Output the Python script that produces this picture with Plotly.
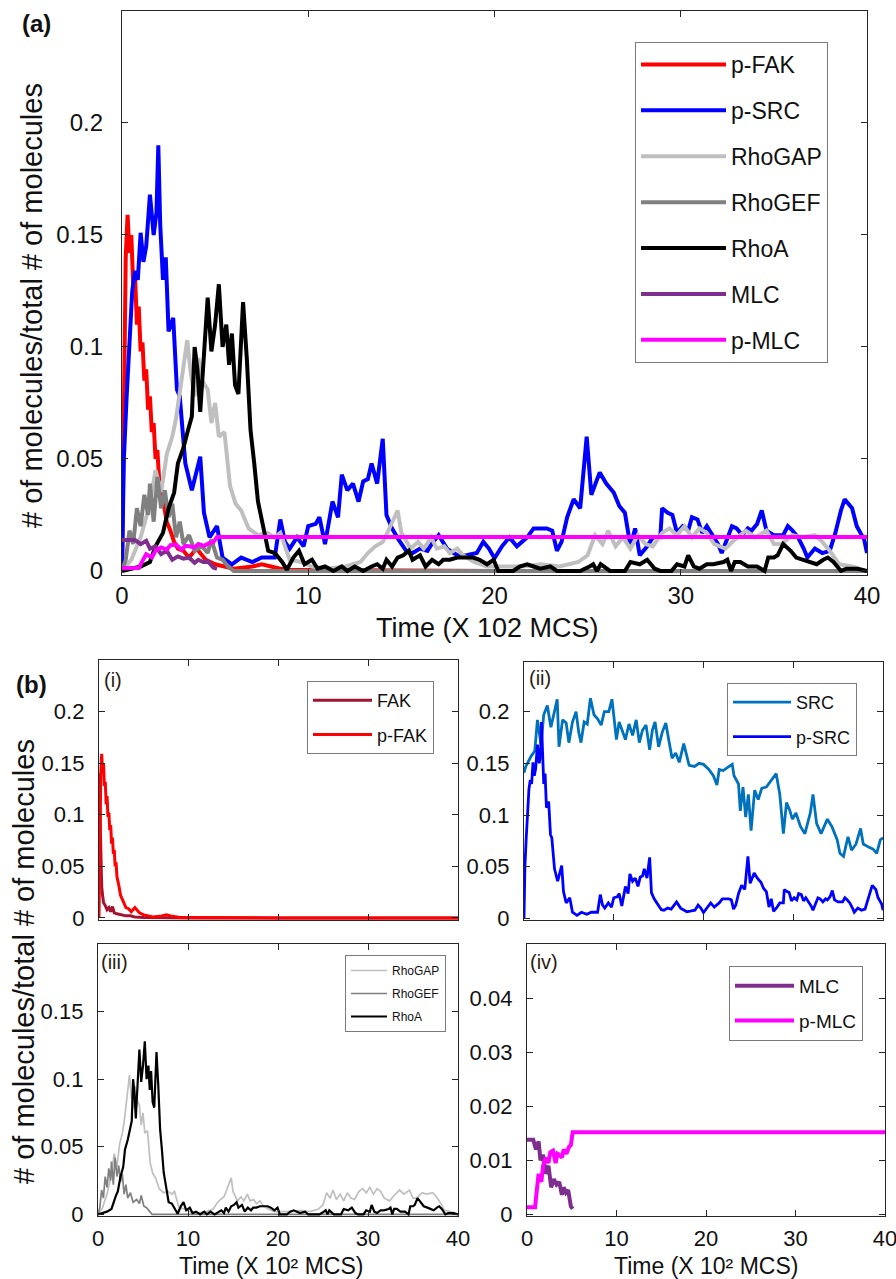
import plotly.graph_objects as go

W, H = 896, 1279
FONT = "Arial, 'Liberation Sans', Helvetica, sans-serif"

# ---------------- data (fraction of molecules vs time, x 10^2 MCS) ----------------
t_pfak = [0, 0.1, 0.2, 0.3, 0.4, 0.5, 0.6, 0.7, 0.8, 0.9,
          1.0, 1.1, 1.2, 1.3, 1.4, 1.5, 1.6, 1.7, 1.8, 1.9,
          2.0, 2.2, 2.4, 2.6, 2.8, 3.0, 3.3, 3.6, 4.0, 4.5,
          5.0, 5.5, 6.0, 7.0, 7.5, 8.0, 8.5, 9.0, 10, 12, 15, 20, 25, 30, 35, 40]
pfak = [0, 0.09, 0.14, 0.159, 0.142, 0.150, 0.128, 0.132, 0.110, 0.118,
        0.098, 0.102, 0.085, 0.090, 0.072, 0.078, 0.062, 0.066, 0.050, 0.054,
        0.040, 0.032, 0.022, 0.018, 0.013, 0.010, 0.009, 0.006, 0.010, 0.005,
        0.003, 0.002, 0.001, 0.002, 0.003, 0.002, 0.001, 0.0005, 0.0005, 0.0003, 0.0002, 0, 0, 0, 0, 0]

t_fak = [0, 0.1, 0.2, 0.3, 0.4, 0.5, 0.7, 0.9, 1.1, 1.3, 1.5, 1.7, 2.0, 2.5, 3.0, 3.5, 4.0, 5, 6, 8, 10, 40]
fak = [0.14, 0.09, 0.05, 0.03, 0.022, 0.015, 0.012, 0.008, 0.010, 0.006, 0.011, 0.005,
       0.004, 0.003, 0.002, 0.002, 0.001, 0.0005, 0.0003, 0.0002, 0, 0]

t_psrc = [0, 0.1, 0.25, 0.4, 0.55, 0.7, 0.85, 1.0, 1.15, 1.3, 1.5, 1.7, 1.85, 1.95, 2.05, 2.2, 2.35,
          2.5, 2.75, 2.95, 3.1, 3.4, 3.75, 4.2, 4.4, 4.7, 5.1, 5.4, 5.9, 6.4, 7.0, 7.5, 8.2, 8.5,
          8.75, 9.0, 9.4, 9.75, 10.0, 10.4, 10.6, 10.9, 11.3, 11.6, 11.8, 12.1, 12.4, 12.7, 12.95,
          13.2, 13.4, 13.7, 14.0, 14.2, 14.5, 14.85, 15.3, 15.6, 16.0, 16.4, 16.7, 17.0, 17.45,
          17.8, 18.15, 18.5, 19.05, 19.4, 19.7, 20.0, 20.4, 20.8, 21.2, 21.75, 22.1, 22.8, 23.1,
          23.35, 23.6, 23.9, 24.25, 24.6, 24.95, 25.2, 25.65, 26.0, 26.4, 26.7, 27.0, 27.3, 27.55,
          27.8, 28.2, 28.5, 28.9, 29.0, 29.3, 29.55, 29.8, 30.1, 30.4, 30.6, 30.9, 31.15, 31.4,
          31.7, 32.0, 32.2, 32.5, 32.75, 33.0, 33.3, 33.6, 33.8, 34.1, 34.35, 34.6, 35.0, 35.5,
          35.75, 36.0, 36.3, 36.6, 36.8, 37.2, 37.6, 38.0, 38.3, 38.6, 38.8, 39.2, 39.45, 39.85, 40.0]
psrc = [0, 0.05, 0.078, 0.10, 0.125, 0.134, 0.13, 0.151, 0.138, 0.145, 0.168, 0.15, 0.16, 0.19, 0.155, 0.13, 0.14,
        0.107, 0.113, 0.081, 0.078, 0.048, 0.036, 0.051, 0.026, 0.015, 0.020, 0.006, 0.003, 0.006, 0.004, 0.006, 0.006, 0.023,
        0.013, 0.010, 0.015, 0.011, 0.020, 0.021, 0.024, 0.012, 0.031, 0.024, 0.043, 0.036, 0.039, 0.031, 0.040,
        0.041, 0.048, 0.039, 0.059, 0.025, 0.019, 0.014, 0.0085, 0.008, 0.010, 0.009, 0.013, 0.016, 0.010,
        0.008, 0.0065, 0.007, 0.008, 0.013, 0.010, 0.0057, 0.011, 0.015, 0.011, 0.015, 0.019, 0.019, 0.018,
        0.009, 0.013, 0.024, 0.032, 0.028, 0.060, 0.034, 0.044, 0.039, 0.035, 0.029, 0.026, 0.011, 0.019,
        0.007, 0.011, 0.015, 0.015, 0.028, 0.026, 0.025, 0.017, 0.020, 0.018, 0.024, 0.023, 0.017, 0.020,
        0.016, 0.012, 0.008, 0.014, 0.020, 0.019, 0.016, 0.019, 0.018, 0.021, 0.027, 0.018, 0.016, 0.016,
        0.020, 0.018, 0.015, 0.010, 0.006, 0.010, 0.008, 0.009, 0.017, 0.027, 0.032, 0.028, 0.020, 0.014, 0.008]

t_src = [0, 0.2, 0.8, 1.2, 1.5, 1.9, 2.2, 2.6, 3.0, 3.3, 3.7, 3.9, 4.3, 4.7, 5.0, 5.4, 5.8, 6.1, 6.35,
         6.7, 7.05, 7.4, 7.8, 8.2, 8.6, 8.95, 9.45, 9.8, 10.05, 10.3, 10.6, 11.0, 11.3, 11.7, 12.1,
         12.5, 12.85, 13.2, 13.6, 14.0, 14.3, 14.6, 15.0, 15.4, 15.8, 16.1, 16.5, 16.9, 17.3, 17.8,
         18.4, 19.0, 19.5, 20.0, 20.6, 21.1, 21.5, 21.75, 22.2, 22.7, 23.2, 23.4, 23.9, 24.1, 24.4,
         24.7, 25.0, 25.3, 25.7, 26.1, 26.5, 27.0, 27.6, 28.1, 28.5, 28.9, 29.25, 29.6, 29.9, 30.3,
         30.8, 31.3, 31.9, 32.2, 32.6, 33.1, 33.8, 34.3, 34.9, 35.2, 35.6, 36.1, 36.5, 37.0, 37.5,
         37.8, 38.4, 38.9, 39.3, 39.7, 40.0]
src = [0.141, 0.147, 0.157, 0.162, 0.192, 0.168, 0.197, 0.206, 0.185, 0.198, 0.212, 0.166, 0.192, 0.189, 0.170, 0.190, 0.200, 0.180, 0.170,
       0.190, 0.188, 0.213, 0.197, 0.193, 0.187, 0.200, 0.200, 0.212, 0.195, 0.173, 0.190, 0.180, 0.173, 0.188, 0.177,
       0.192, 0.170, 0.182, 0.187, 0.163, 0.182, 0.190, 0.166, 0.180, 0.189, 0.174, 0.155, 0.160, 0.151, 0.169,
       0.148, 0.147, 0.150, 0.149, 0.144, 0.138, 0.129, 0.144, 0.143, 0.146, 0.149, 0.138, 0.130, 0.104, 0.127,
       0.098, 0.120, 0.085, 0.124, 0.115, 0.126, 0.127, 0.134, 0.140, 0.120, 0.082, 0.112, 0.105, 0.096, 0.102,
       0.089, 0.082, 0.102, 0.120, 0.092, 0.082, 0.096, 0.089, 0.076, 0.063, 0.060, 0.079, 0.066, 0.072, 0.087,
       0.072, 0.069, 0.067, 0.063, 0.076, 0.078]

t_rhogap = [0, 0.5, 1.0, 1.5, 1.8, 2.1, 2.4, 2.7, 2.9, 3.1, 3.3, 3.5, 3.7, 3.9, 4.1, 4.3, 4.6, 4.8,
            5.0, 5.2, 5.5, 5.8, 6.1, 6.4, 6.8, 7.3, 7.8, 8.2, 8.5, 9.0, 9.6, 10.2, 11.0, 12.0, 12.8,
            13.2, 13.6, 14.0, 14.3, 14.6, 14.8, 15.0, 15.5, 15.9, 16.2, 16.6, 16.9, 17.3, 17.6, 18.0,
            18.3, 18.9, 19.6, 20.5, 21.5, 22.5, 23.5, 24.5, 25.0, 25.4, 25.8, 26.1, 26.5, 26.9, 27.3,
            27.7, 28.1, 28.5, 29.0, 29.4, 29.8, 30.2, 30.6, 31.0, 31.4, 31.8, 32.4, 32.9, 33.5, 34.0,
            34.6, 35.0, 35.4, 36.0, 36.5, 37.2, 37.6, 38.0, 38.5, 39.2, 40.0]
rhogap = [0, 0.005, 0.015, 0.030, 0.045, 0.035, 0.052, 0.060, 0.068, 0.080, 0.090, 0.103, 0.088, 0.078, 0.095, 0.085, 0.081, 0.066,
          0.075, 0.060, 0.062, 0.038, 0.030, 0.027, 0.019, 0.016, 0.017, 0.015, 0.017, 0.005, 0.004, 0.002, 0.001, 0.002, 0.004,
          0.008, 0.011, 0.013, 0.018, 0.024, 0.027, 0.017, 0.010, 0.013, 0.010, 0.015, 0.010, 0.011, 0.008, 0.010,
          0.007, 0.004, 0.002, 0.002, 0.002, 0.003, 0.002, 0.004, 0.007, 0.016, 0.012, 0.018, 0.011, 0.015, 0.010,
          0.016, 0.012, 0.011, 0.017, 0.019, 0.016, 0.020, 0.015, 0.019, 0.017, 0.012, 0.010, 0.014, 0.018, 0.015,
          0.018, 0.012, 0.012, 0.016, 0.015, 0.016, 0.013, 0.009, 0.003, 0.002, 0.0]

t_rhogef = [0, 0.2, 0.4, 0.6, 0.8, 1.0, 1.2, 1.4, 1.5, 1.7, 1.9, 2.1, 2.3, 2.5, 2.7, 2.9, 3.1, 3.3,
            3.6, 3.9, 4.3, 4.6, 4.8, 5.1, 5.4, 5.7, 6.0, 40]
rhogef = [0, 0.005, 0.018, 0.012, 0.028, 0.020, 0.034, 0.025, 0.039, 0.022, 0.042, 0.028, 0.036, 0.024, 0.030, 0.015, 0.022, 0.012,
          0.016, 0.009, 0.011, 0.008, 0.014, 0.006, 0.005, 0.002, 0, 0]

t_rhoa = [0, 0.5, 1.0, 1.5, 1.8, 2.0, 2.2, 2.5, 2.8, 3.0, 3.3, 3.55, 3.75, 3.9, 4.05, 4.2, 4.4, 4.6,
          4.8, 5.0, 5.2, 5.4, 5.6, 5.75, 5.9, 6.07, 6.25, 6.5, 6.7, 6.9, 7.1, 7.3, 7.6, 7.85, 8.2,
          8.6, 8.85, 9.2, 9.5, 9.8, 10.2, 10.5, 10.9, 11.35, 11.8, 12.1, 12.5, 12.95, 13.4, 13.7,
          14.0, 14.2, 14.5, 14.8, 15.1, 15.4, 15.6, 16.0, 16.3, 16.65, 17.0, 17.25, 17.6, 18.0, 18.4,
          18.85, 19.2, 19.6, 19.95, 20.2, 20.6, 21.0, 21.35, 21.75, 22.1, 22.45, 23.0, 23.35, 23.9,
          24.6, 25.1, 25.3, 25.5, 25.7, 26.2, 27.0, 27.3, 27.8, 28.2, 28.6, 28.9, 29.5, 29.8, 30.2,
          30.4, 30.7, 31.0, 31.4, 31.75, 32.3, 32.5, 32.7, 32.9, 33.2, 33.6, 34.1, 34.5, 34.7, 35.0,
          35.2, 35.5, 35.9, 36.2, 36.6, 36.9, 37.3, 37.65, 37.9, 38.2, 38.6, 38.9, 39.5, 40.0]
rhoa = [0, 0.001, 0.002, 0.004, 0.011, 0.014, 0.017, 0.028, 0.035, 0.048, 0.055, 0.063, 0.069, 0.100, 0.090, 0.071, 0.096, 0.122,
        0.098, 0.110, 0.128, 0.100, 0.110, 0.092, 0.106, 0.083, 0.079, 0.120, 0.095, 0.063, 0.048, 0.031, 0.019, 0.009, 0.008,
        0.004, 0.0005, 0.006, 0.009, 0.003, 0.005, 0.001, 0.002, 0.0, 0.002, 0.0, 0.002, 0.0, 0.002, 0.003,
        0.001, 0.005, 0.002, 0.006, 0.007, 0.009, 0.005, 0.007, 0.002, 0.005, 0.003, 0.005, 0.005, 0.006, 0.006,
        0.006, 0.005, 0.003, 0.005, 0.0, 0.0, 0.0, 0.002, 0.003, 0.002, 0.001, 0.002, 0.0, 0.0,
        0.0, 0.002, 0.003, 0.0, 0.003, 0.0, 0.0, 0.004, 0.003, 0.005, 0.001, 0.0, 0.0, 0.003, 0.002,
        0.007, 0.002, 0.001, 0.003, 0.003, 0.004, 0.005, 0.0, 0.004, 0.004, 0.002, 0.002, 0.0, 0.006, 0.006,
        0.007, 0.012, 0.009, 0.006, 0.005, 0.004, 0.003, 0.005, 0.006, 0.004, 0.0, 0.001, 0.001, 0.0]

t_mlc = [0, 0.7, 1.0, 1.3, 1.5, 1.8, 2.1, 2.4, 2.7, 3.0, 3.3, 3.6, 3.9, 4.1, 4.35, 4.6, 4.9, 5.1]
mlc = [0.0138, 0.0138, 0.012, 0.0135, 0.010, 0.011, 0.0075, 0.009, 0.005, 0.0065, 0.0055, 0.006, 0.0036, 0.005, 0.004, 0.0045, 0.0015, 0.001]

t_pmlc = [0, 0.9, 1.1, 1.3, 1.6, 1.8, 2.1, 2.4, 2.6, 2.9, 3.2, 3.4, 3.6, 3.9, 4.1, 4.4, 4.7, 4.9, 5.1, 40]
pmlc = [0.0013, 0.0013, 0.0045, 0.0075, 0.006, 0.009, 0.0105, 0.0095, 0.0115, 0.0118, 0.0095, 0.0112, 0.011, 0.0105, 0.012,
        0.0112, 0.0125, 0.0128, 0.0152, 0.0152]

x_ticks = [0, 10, 20, 30, 40]
y_ticks_main = [0, 0.05, 0.1, 0.15, 0.2]
y_text_main = ["0", "0.05", "0.1", "0.15", "0.2"]
y_ticks_iii = [0, 0.05, 0.1, 0.15]
y_text_iii = ["0", "0.05", "0.1", "0.15"]
y_ticks_iv = [0, 0.01, 0.02, 0.03, 0.04]
y_text_iv = ["0", "0.01", "0.02", "0.03", "0.04"]

C = {"p-FAK": "#ff0000", "FAK": "#a2142f", "p-SRC": "#0000ff", "SRC": "#0072bd",
     "RhoGAP": "#bfbfbf", "RhoGEF": "#808080", "RhoA": "#000000",
     "MLC": "#7e2f8e", "p-MLC": "#ff00ff"}

# ---------------- layout helpers (pixel -> paper) ----------------
def fx(px):
    return px / W


def fy(py):
    return 1 - py / H


fig = go.Figure()


def add(x, y, name, width, xa, ya, legend):
    fig.add_trace(go.Scatter(
        x=x, y=y, mode="lines", name=name,
        line=dict(color=C[name], width=width, shape="linear"),
        xaxis=xa, yaxis=ya, legend=legend, legendgroup=legend + name,
    ))


# (a)
add(t_pfak, pfak, "p-FAK", 4, "x", "y", "legend")
add(t_psrc, psrc, "p-SRC", 4, "x", "y", "legend")
add(t_rhogap, rhogap, "RhoGAP", 4, "x", "y", "legend")
add(t_rhogef, rhogef, "RhoGEF", 4, "x", "y", "legend")
add(t_rhoa, rhoa, "RhoA", 4, "x", "y", "legend")
add(t_mlc, mlc, "MLC", 4, "x", "y", "legend")
add(t_pmlc, pmlc, "p-MLC", 4, "x", "y", "legend")
# (i)
add(t_fak, fak, "FAK", 3, "x2", "y2", "legend2")
add(t_pfak, pfak, "p-FAK", 3, "x2", "y2", "legend2")
# (ii)
add(t_src, src, "SRC", 2.8, "x3", "y3", "legend3")
add(t_psrc, psrc, "p-SRC", 2.8, "x3", "y3", "legend3")
# (iii)
add(t_rhogap, rhogap, "RhoGAP", 1.7, "x4", "y4", "legend4")
add(t_rhogef, rhogef, "RhoGEF", 1.7, "x4", "y4", "legend4")
add(t_rhoa, rhoa, "RhoA", 2.2, "x4", "y4", "legend4")
# (iv)
add(t_mlc, mlc, "MLC", 4, "x5", "y5", "legend5")
add(t_pmlc, pmlc, "p-MLC", 4, "x5", "y5", "legend5")

AX = "#262626"


def xaxis(dom, anchor, show_labels, size, standoff):
    return dict(domain=[fx(dom[0]), fx(dom[1])], anchor=anchor, range=[0, 40],
                tickvals=x_ticks, showticklabels=show_labels, automargin=False,
                ticklabeloverflow="allow",
                showgrid=False, zeroline=False, showline=True, linecolor=AX, linewidth=1.3,
                mirror="ticks", ticks="inside", ticklen=6, tickwidth=1.3, tickcolor=AX,
                tickfont=dict(family=FONT, size=size, color="#111"), ticklabelstandoff=standoff)


def yaxis(dom, anchor, rng, tv, tt, size, standoff):
    return dict(domain=[fy(dom[1]), fy(dom[0])], anchor=anchor, range=rng,
                tickvals=tv, ticktext=tt, automargin=False,
                showgrid=False, zeroline=False, showline=True, linecolor=AX, linewidth=1.3,
                mirror="ticks", ticks="inside", ticklen=6, tickwidth=1.3, tickcolor=AX,
                tickfont=dict(family=FONT, size=size, color="#111"), ticklabelstandoff=standoff)


def legend_box(xp, yp, size, gap, itemw):
    return dict(x=fx(xp), y=fy(yp), xanchor="left", yanchor="top", xref="paper", yref="paper",
                bgcolor="white", bordercolor="#7a7a7a", borderwidth=1,
                font=dict(family=FONT, size=size, color="#111"),
                tracegroupgap=gap, itemwidth=itemw, traceorder="grouped")


fig.update_layout(
    width=W, height=H, margin=dict(l=0, r=0, t=0, b=0, autoexpand=False),
    paper_bgcolor="white", plot_bgcolor="white",
    font=dict(family=FONT, color="#111"),
    xaxis=xaxis((122, 867), "y", True, 24, -1),
    yaxis=yaxis((11, 575), "x", [-0.0018, 0.25], y_ticks_main, y_text_main, 24, 13),
    xaxis2=xaxis((99, 458), "y2", False, 22, 3),
    yaxis2=yaxis((660, 920), "x2", [-0.002, 0.25], y_ticks_main, y_text_main, 22, 9),
    xaxis3=xaxis((524, 883), "y3", False, 22, 3),
    yaxis3=yaxis((662, 920), "x3", [-0.0015, 0.248], y_ticks_main, y_text_main, 22, 9),
    xaxis4=xaxis((98, 458), "y4", True, 22, 2),
    yaxis4=yaxis((944, 1216), "x4", [-0.0012, 0.2], y_ticks_iii, y_text_iii, 22, 9),
    xaxis5=xaxis((527, 885), "y5", True, 22, 2),
    yaxis5=yaxis((944, 1216), "x5", [-0.0003, 0.05], y_ticks_iv, y_text_iv, 22, 9),
    legend=legend_box(635, 42, 23, 13, 85),
    legend2=legend_box(307, 681, 18, 8, 59),
    legend3=legend_box(727, 683, 18, 8, 58),
    legend4=legend_box(345, 955, 12, 4, 36),
    legend5=legend_box(729, 966, 19, 7, 59),
)


def note(text, xp, yp, size, bold=False, angle=0, xanchor="center", color="#111"):
    fig.add_annotation(text=text, x=fx(xp), y=fy(yp),
                       xref="paper", yref="paper", showarrow=False, textangle=angle,
                       xanchor=xanchor, yanchor="middle",
                       font=dict(family=FONT, size=size, color=color,
                                 weight="bold" if bold else "normal"))


note("(a)", 36, 24, 24, bold=True)
note("(b)", 31, 684, 24, bold=True)
note("(i)", 102, 680, 20, xanchor="left", color="#2a1d10")
note("(ii)", 527, 678, 20, xanchor="left", color="#2a1d10")
note("(iii)", 99, 962, 20, xanchor="left", color="#2a1d10")
note("(iv)", 528, 962, 20, xanchor="left", color="#2a1d10")
note("# of molecules/total # of molecules", 32, 306, 29, angle=-90)
note("# of molecules/total # of molecules", 24, 962, 29, angle=-90)
note("Time (X 102 MCS)", 488, 628, 27)
note("Time (X 10² MCS)", 271, 1266, 23)
note("Time (X 10² MCS)", 706, 1266, 23)

fig.write_html("out.html", config={"displayModeBar": False},
               post_script="document.body.style.margin='0px';document.body.style.overflow='hidden';")
